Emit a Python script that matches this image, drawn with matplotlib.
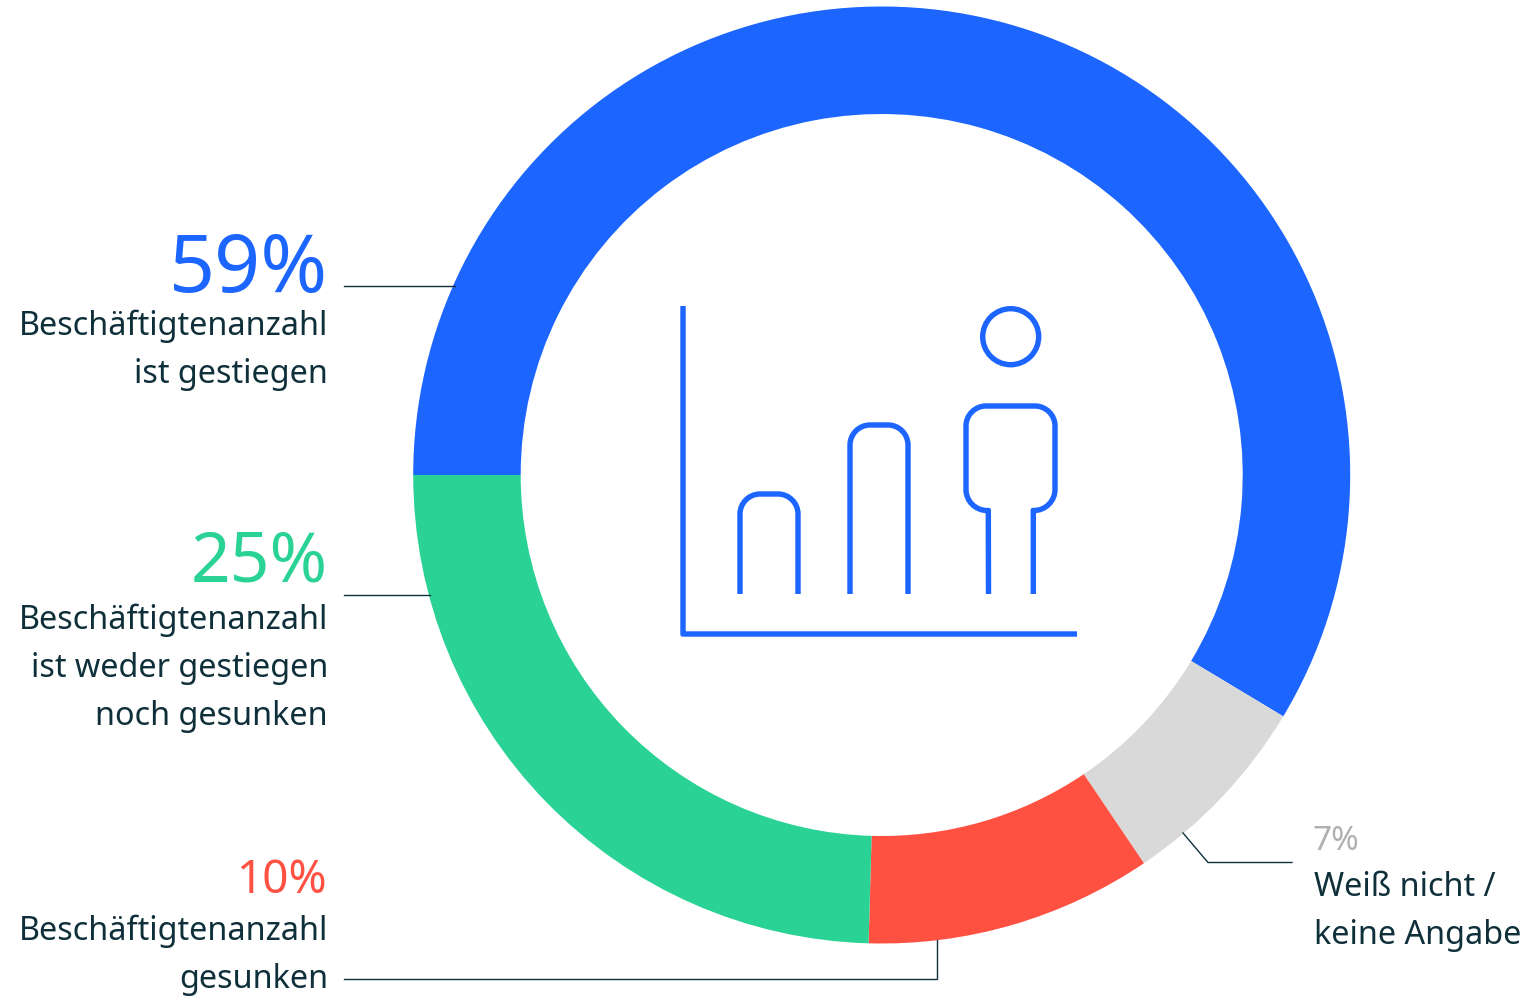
"""Donut chart of employee count changes with a small icon in the middle."""
import matplotlib
matplotlib.use('Agg')
from matplotlib import pyplot as plt
from matplotlib.patches import Circle, PathPatch
from matplotlib.path import Path

plt.rcParams['font.family'] = ['Noto Sans', 'DejaVu Sans']

# clockwise from the left edge of the ring
categories = ['Beschäftigtenanzahl\nist gestiegen',
              'Weiß nicht /\nkeine Angabe',
              'Beschäftigtenanzahl\ngesunken',
              'Beschäftigtenanzahl\nist weder gestiegen\nnoch gesunken']
percent_labels = ['59%', '7%', '10%', '25%']
# unrounded shares as read from the ring, they add up to 101
values = [59.2, 7.0, 10.0, 24.8]
colors = ['#1c66ff', '#d9d9d9', '#ff5142', '#2ad296']
percent_colors = ['#1c66ff', '#b0b0b0', '#ff5142', '#2ad296']

W, H = 1540, 997
DARK = '#0f303a'
BLUE = '#1c66ff'
TEXT_SIZE = 23.3


def py(y):
    """Flips a y position measured from the top edge."""
    return H - y


def rounded(points, radii):
    """Builds an open path through points, each inner corner with its own radius."""
    verts = [points[0]]
    codes = [Path.MOVETO]
    for i in range(1, len(points) - 1):
        radius = radii[i - 1]
        x0, y0 = points[i - 1]
        x1, y1 = points[i]
        x2, y2 = points[i + 1]
        d0 = ((x1 - x0) ** 2 + (y1 - y0) ** 2) ** 0.5
        d2 = ((x2 - x1) ** 2 + (y2 - y1) ** 2) ** 0.5
        start = (x1 + (x0 - x1) * radius / d0, y1 + (y0 - y1) * radius / d0)
        end = (x1 + (x2 - x1) * radius / d2, y1 + (y2 - y1) * radius / d2)
        c0 = (start[0] + (x1 - start[0]) * 0.55, start[1] + (y1 - start[1]) * 0.55)
        c1 = (end[0] + (x1 - end[0]) * 0.55, end[1] + (y1 - end[1]) * 0.55)
        verts += [start, c0, c1, end]
        codes += [Path.LINETO, Path.CURVE4, Path.CURVE4, Path.CURVE4]
    verts.append(points[-1])
    codes.append(Path.LINETO)
    return Path([(x, py(y)) for x, y in verts], codes)


def stroke(ax, path):
    ax.add_patch(PathPatch(path, fill=False, edgecolor=BLUE, lw=3.9, capstyle='butt', joinstyle='miter'))


fig = plt.figure(figsize=(W / 100, H / 100), dpi=100)
ax = fig.add_axes([0, 0, 1, 1])

ax.pie(values, colors=colors, center=(881.7, py(475)), radius=468.5, startangle=180, counterclock=False,
       wedgeprops=dict(width=107.5, linewidth=0))

ax.set_xlim(0, W)
ax.set_ylim(0, H)
ax.set_aspect('equal')
ax.axis('off')

# leader lines
leaders = [
    ([344, 455], [286, 286]),
    ([344, 430], [595.5, 595.5]),
    ([344, 937, 937], [979, 979, 940]),
    ([1292, 1208, 1183], [862.5, 862.5, 833]),
]
for xs, ys in leaders:
    ax.plot(xs, [py(y) for y in ys], color=DARK, lw=1.0, solid_joinstyle='miter')

# icon
stroke(ax, rounded([(683, 306), (683, 634), (1077, 634)], [0.01]))
stroke(ax, rounded([(740, 594), (740, 494), (798, 494), (798, 594)], [20, 20]))
stroke(ax, rounded([(850, 594), (850, 425), (908, 425), (908, 594)], [20, 20]))
stroke(ax, rounded([(988.5, 594), (988.3, 510.5), (966, 510.5), (966, 406), (1055, 406), (1055, 510.5),
                    (1033.3, 510.5), (1033.3, 594)], [0.01, 21, 20, 20, 21, 0.01]))
ax.add_patch(Circle((1010.7, py(336.7)), 28, fill=False, edgecolor=BLUE, lw=3.9))

# labels: percent and description per segment
pct_pos = [(328, 292, 58), (1313, 850, 24), (328, 893, 33), (328, 581.5, 50)]
line_pos = [(328, [335, 383]), (1314, [896, 944]), (328, [940, 988]), (328, [629, 677, 725])]

for i, label in enumerate(percent_labels):
    x, y, size = pct_pos[i]
    ha = 'left' if x > 881 else 'right'
    ax.text(x, py(y), label, color=percent_colors[i], fontsize=size, ha=ha, va='baseline')
    x, ys = line_pos[i]
    for line, y in zip(categories[i].split('\n'), ys):
        ax.text(x, py(y), line, color=DARK, fontsize=TEXT_SIZE, ha=ha, va='baseline')

fig.savefig('out.png', dpi=100)
